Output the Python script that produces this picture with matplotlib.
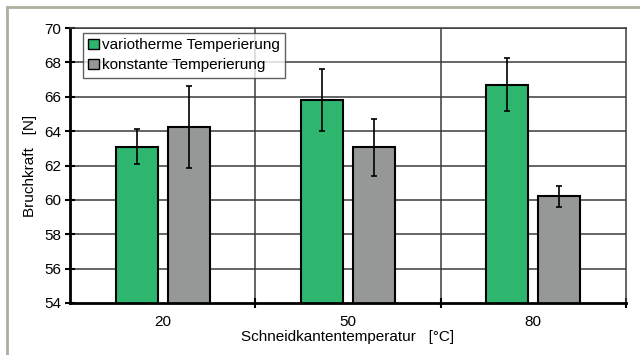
import matplotlib
matplotlib.use("Agg")
import matplotlib.pyplot as plt
from matplotlib.lines import Line2D
import numpy as np

plt.rcParams['font.family'] = ['Liberation Sans', 'DejaVu Sans']

# Bruchkraft je Schneidkantentemperatur
temperatures = ["20", "50", "80"]
variotherm = [63.1, 65.8, 66.7]
variotherm_err = [1.0, 1.8, 1.55]
konstant = [64.25, 63.05, 60.2]
konstant_err = [2.4, 1.65, 0.6]
series_labels = ["variotherme Temperierung", "konstante Temperierung"]
y_ticks = [54, 56, 58, 60, 62, 64, 66, 68, 70]

green = "#2eb56e"
grey = "#969898"
grid_col = "#3a3a3a"
fs = 11

fig = plt.figure(figsize=(6.4, 3.55), dpi=100)
fig.patch.set_facecolor("white")

# thin frame lines along the top and left edge of the figure
fig.add_artist(Line2D([6.5 / 640, 1], [1 - 6.5 / 355] * 2, color="#b0ae9e",
                      lw=2.0, transform=fig.transFigure))
fig.add_artist(Line2D([6.5 / 640] * 2, [0, 1 - 6.5 / 355], color="#b0ae9e",
                      lw=2.0, transform=fig.transFigure))

ax = fig.add_axes([70 / 640, 1 - 303 / 355, 556 / 640, 275 / 355])

x = np.arange(len(temperatures))
w = 0.227
off = 0.14

for v in y_ticks[1:]:
    ax.axhline(v, color=grid_col, lw=1.1, zorder=0)
for b in [0.5, 1.5]:
    ax.axvline(b, color=grid_col, lw=1.1, zorder=0)

err_kw = dict(ecolor="black", elinewidth=1.2, capsize=2.5, capthick=1.2)
ax.bar(x - off, variotherm, w, bottom=0, color=green, edgecolor="black",
       linewidth=1.5, yerr=variotherm_err, error_kw=err_kw, zorder=2,
       label=series_labels[0])
ax.bar(x + off, konstant, w, bottom=0, color=grey, edgecolor="black",
       linewidth=1.5, yerr=konstant_err, error_kw=err_kw, zorder=2,
       label=series_labels[1])

ax.set_xlim(-0.5, 2.5)
ax.set_ylim(54, 70)
ax.set_yticks(y_ticks)
ax.set_xticks(x)
ax.set_xticklabels(temperatures)
ax.set_xticks([0.5, 1.5, 2.5], minor=True)
ax.tick_params(axis="x", which="major", length=0, labelsize=fs, pad=9)
ax.tick_params(axis="x", which="minor", direction="inout", length=7, width=1.5)
ax.tick_params(axis="y", direction="inout", length=7, width=1.5, labelsize=fs,
               pad=3)

for s in ["left", "bottom"]:
    ax.spines[s].set_linewidth(2.0)
    ax.spines[s].set_color("black")
for s in ["top", "right"]:
    ax.spines[s].set_linewidth(1.1)
    ax.spines[s].set_color(grid_col)

ax.set_ylabel("Bruchkraft   [N]", fontsize=fs, labelpad=5)
ax.set_xlabel("Schneidkantentemperatur   [°C]", fontsize=fs, labelpad=0)

leg = ax.legend(loc="upper left", bbox_to_anchor=(0.023, 0.982), fontsize=fs,
                frameon=True, fancybox=False, edgecolor=grid_col,
                handlelength=0.7, handleheight=0.7, handletextpad=0.2,
                borderpad=0.35, labelspacing=0.4, borderaxespad=0)
leg.get_frame().set_linewidth(1.0)
for h in leg.legend_handles:
    h.set_linewidth(1.0)

fig.savefig("out.png", dpi=100, facecolor="white")
